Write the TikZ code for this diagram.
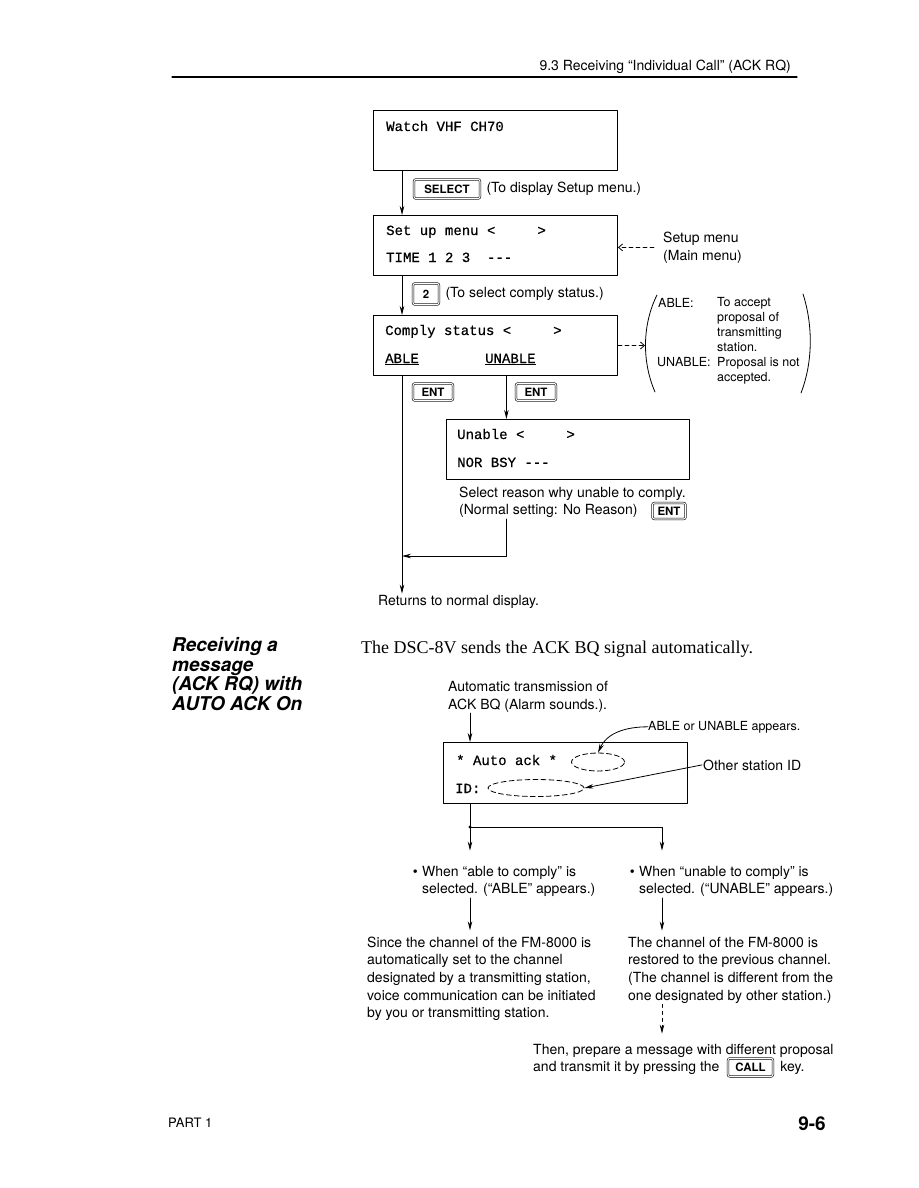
\documentclass[tikz,border=0pt]{standalone}
\usepackage{fontspec}
\setmainfont{TeX Gyre Heros}
\newfontfamily\lcdfont{Liberation Mono}[FakeBold=0.6]
\newfontfamily\bodyserif{Liberation Serif}
\usetikzlibrary{arrows.meta,positioning,shapes.geometric}

\begin{document}
\begin{tikzpicture}[x=1pt,y=-1pt,line cap=round,line join=round,
  >={Stealth[length=9pt,width=4.5pt]},
  lcd/.style={draw,line width=1pt,minimum width=244pt,minimum height=60pt,anchor=north west,inner sep=0pt},
  mono/.style={font=\lcdfont\fontsize{14}{16}\selectfont,anchor=base west,inner sep=0pt},
  txt/.style={font=\fontsize{14}{17.7}\selectfont,anchor=base west,align=left,inner sep=1pt},
  small/.style={font=\fontsize{12.5}{14.7}\selectfont,anchor=base west,align=left,inner sep=0pt},
  key/.style={draw,rounded corners=2pt,double,double distance=1.1pt,line width=0.6pt,
    font=\bfseries\fontsize{11.5}{11.5}\selectfont,inner sep=0pt},
  wire/.style={line width=0.8pt},
  hint/.style={wire,dash pattern=on 4pt off 3pt,-{Straight Barb[length=4pt,width=7pt]}},
  oval/.style={ellipse,draw,dash pattern=on 5pt off 3pt,line width=0.8pt,inner sep=0pt}]

  \useasboundingbox (0,0) rectangle (918,1188);

  % Running head (multi-line nodes sit on the baseline of their last line)
  \node[txt,anchor=base east] (runhead) at (792,71) {9.3 Receiving ``Individual Call'' (ACK RQ)};
  \draw[line width=1.1pt] (172,77) -- (797,77);

  % Setup menu path
  \node[lcd] (watch) at (373,110) {};
  \node[mono] (watchtxt) at (386,131) {Watch VHF CH70};

  \node[key,minimum width=66pt,minimum height=19pt] (selkey) at (447,189) {SELECT};
  \node[txt,right=5pt of selkey] (selnote) {(To display Setup menu.)};

  \node[lcd] (setup) at (373,215) {};
  \node[mono] (setuptxt) at (386,235) {Set up menu <\ \ \ \ \ >};
  \node[mono] (timetxt) at (386,262) {TIME 1 2 3\ \ {-}{-}{-}};
  \node[txt] (mainnote) at (662,260) {Setup menu\\(Main menu)};

  \node[key,minimum width=26pt,minimum height=21pt] (twokey) at (426,294) {2};
  \node[txt,right=5pt of twokey] (twonote) {(To select comply status.)};

  \node[lcd] (comply) at (373,315) {};
  \node[mono] (complytxt) at (385,335) {Comply status <\ \ \ \ \ >};
  \node[mono] (ablesel) at (385,363) {\underline{ABLE}};
  \node[mono] (unablesel) at (485,363) {\underline{UNABLE}};

  % ABLE / UNABLE remark
  \coordinate (paren) at (645,343);
  \draw[wire] (657,295) .. controls (642,325) and (642,362) .. (655,392);
  \draw[wire] (803,294) .. controls (813,325) and (813,362) .. (801,393);
  \node[small] (ablelbl) at (658,307) {ABLE:};
  \node[small] (abletxt) at (717,351) {To accept\\proposal of\\transmitting\\station.};
  \node[small] (unablelbl) at (657,366) {UNABLE:};
  \node[small] (unabletxt) at (717,381) {Proposal is not\\accepted.};

  \node[key,minimum width=40pt,minimum height=17pt] (entable) at (433,392) {ENT};
  \node[key,minimum width=40pt,minimum height=17pt] (entunable) at (536,392) {ENT};

  \node[lcd,minimum width=243pt] (unable) at (446,419) {};
  \node[mono] (unablebox) at (457,439) {Unable <\ \ \ \ \ >};
  \node[mono] (nortxt) at (457,467) {NOR BSY {-}{-}{-}};
  \node[txt] (reason) at (458,514.7) {Select reason why unable to comply.\\(Normal setting: No Reason)};
  \node[key,minimum width=33pt,minimum height=16pt] (entreason) at (669,511) {ENT};

  \node[txt] (retnote) at (377,605) {Returns to normal display.};

  \coordinate (unx) at ([xshift=-4pt]unablesel.south);
  \coordinate (merge) at (ablesel.south |- 0,556);
  \draw[wire,->] ([xshift=29pt]watch.south west) -- ([xshift=29pt]setup.north west);
  \draw[wire,->] ([xshift=29pt]setup.south west) -- ([xshift=29pt]comply.north west);
  \draw[hint] (mainnote.west) ++(-8pt,0) -- (mainnote.west -| setup.east);
  \draw[hint] (comply.east) -- (comply.east -| paren);
  \draw[wire,->] (ablesel.south |- comply.south) -- (ablesel.south |- retnote.north);
  \draw[wire,->] (unx |- comply.south) -- (unx |- unable.north);
  \draw[wire,->] (unx |- reason.south) |- (merge);

  % AUTO ACK On
  \node[font=\bfseries\itshape\fontsize{19}{19.4}\selectfont,anchor=base west,align=left,inner sep=0pt]
    (sidehead) at (172,710) {Receiving a\\message\\(ACK RQ) with\\AUTO ACK On};
  \node[font=\bodyserif\fontsize{18}{20}\selectfont,anchor=base west,inner sep=0pt]
    (lead) at (361,653) {The DSC-8V sends the ACK BQ signal automatically.};
  \node[txt] (autotx) at (447,709) {Automatic transmission of\\ACK BQ (Alarm sounds.).};

  \node[lcd,minimum height=61pt] (autoack) at (443,742) {};
  \node[mono] (autotxt) at (456,765) {* Auto ack *};
  \node[mono] (idtxt) at (455,793) {ID:};
  \node[oval,minimum width=53pt,minimum height=18pt] (ackoval) at (598,762) {};
  \node[oval,minimum width=96pt,minimum height=17pt] (idoval) at (536,788) {};
  \node[small] (ableapp) at (648,730) {ABLE or UNABLE appears.};
  \node[txt] (otherid) at (702,770) {Other station ID};
  \draw[wire,->] (ableapp.west) to[out=180,in=65] (ackoval.north);
  \draw[wire,->] (otherid.west) -- (idoval.east);

  \node[txt] (ablewhen) at (421,893.7) {When ``able to comply'' is\\selected. (``ABLE'' appears.)};
  \node[txt,anchor=base east] (ablebul) at (419,876) {\textbullet};
  \node[txt] (unablewhen) at (638,893.7) {When ``unable to comply'' is\\selected. (``UNABLE'' appears.)};
  \node[txt,anchor=base east] (unablebul) at (636,876) {\textbullet};

  \node[txt] (ableres) at (366,1017.8) {Since the channel of the FM-8000 is\\automatically set to the channel\\designated by a transmitting station,\\voice communication can be initiated\\by you or transmitting station.};
  \node[txt] (unableres) at (627,1000.1) {The channel of the FM-8000 is\\restored to the previous channel.\\(The channel is different from the\\one designated by other station.)};

  \node[txt] (prepare) at (532,1054) {Then, prepare a message with different proposal};
  \node[txt] (transmit) at (532,1071) {and transmit it by pressing the};
  \node[key,minimum width=45pt,minimum height=18pt,right=7pt of transmit] (callkey) {CALL};
  \node[txt,right=6pt of callkey] (keyword) {key.};

  \coordinate (stemtop) at ([xshift=27pt]autoack.north west);
  \coordinate (stem) at ([xshift=27pt]autoack.south west);
  \coordinate (split) at (stem |- 0,827);
  \coordinate (rbranch) at (662,827);
  \draw[wire,->] (stemtop |- autotx.south) -- (stemtop);
  \draw[wire,->,shorten >=14pt] (stem) -- (stem |- ablewhen.north);
  \draw[wire,->,shorten >=14pt] (split) -| (rbranch |- unablewhen.north);
  \fill (split) circle (1.6pt);
  \draw[wire,->,shorten >=5pt] (stem |- ablewhen.south) -- (stem |- ableres.north);
  \draw[wire,->,shorten >=5pt] (rbranch |- unablewhen.south) -- (rbranch |- unableres.north);
  \draw[wire,dash pattern=on 3pt off 4pt,->,shorten >=9pt] (rbranch |- unableres.south) -- (rbranch |- prepare.north);

  % Footer
  \node[txt,font=\fontsize{13}{15}\selectfont] (partno) at (167,1127) {PART 1};
  \node[font=\bfseries\fontsize{19}{20}\selectfont,anchor=base east,inner sep=0pt] (pageno) at (826,1130) {9-6};
\end{tikzpicture}
\end{document}
